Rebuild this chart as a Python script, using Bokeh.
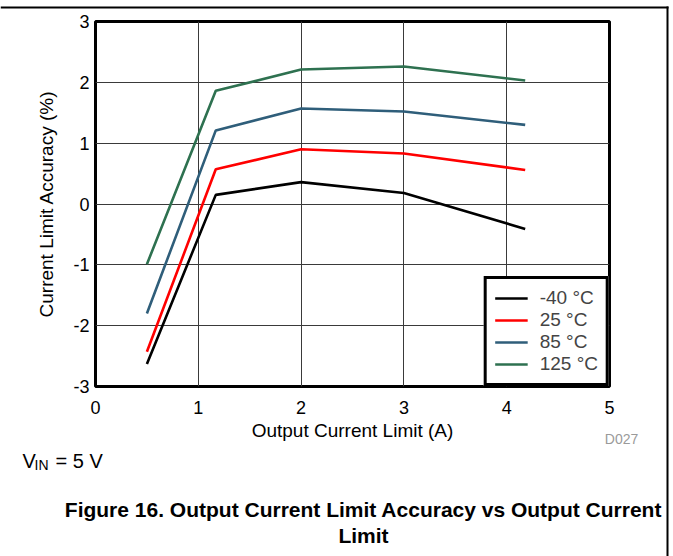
from bokeh.plotting import figure
from bokeh.layouts import column
from bokeh.models import (Range1d, Label, Legend, LegendItem, BoxAnnotation, FixedTicker,
                          PrintfTickFormatter)
from bokeh.embed import file_html
from bokeh.resources import INLINE

# ---- data ----
x_current = [0.5, 1.17, 2.0, 3.0, 4.18]
acc_m40 = [-2.63, 0.15, 0.36, 0.18, -0.41]
acc_25 = [-2.43, 0.57, 0.90, 0.83, 0.56]
acc_85 = [-1.80, 1.21, 1.57, 1.52, 1.30]
acc_125 = [-0.99, 1.86, 2.21, 2.26, 2.03]
series_labels = ["-40 °C", "25 °C", "85 °C", "125 °C"]
series_colors = ["#000000", "#FF0000", "#2F5E7A", "#2E7150"]
x_ticks = [0, 1, 2, 3, 4, 5]
y_ticks = [-3, -2, -1, 0, 1, 2, 3]

FONT = "Liberation Sans"
W, H = 673, 556

p = figure(width=W, height=H, output_backend="svg", toolbar_location=None,
           x_range=Range1d(0, 5), y_range=Range1d(-3, 3),
           min_border_left=95, min_border_right=64, min_border_top=21, min_border_bottom=170)
p.frame_align = False
p.background_fill_color = "white"
p.border_fill_color = "white"
p.outline_line_color = "black"
p.outline_line_width = 3

for ax in (p.xaxis[0], p.yaxis[0]):
    ax.axis_line_color = None
    ax.major_tick_line_color = None
    ax.minor_tick_line_color = None
    ax.major_tick_in = 0
    ax.major_tick_out = 0
    ax.minor_tick_in = 0
    ax.minor_tick_out = 0
    ax.major_label_text_font = FONT
    ax.major_label_text_font_size = "18px"
    ax.major_label_text_color = "black"
    ax.axis_label_text_font = FONT
    ax.axis_label_text_font_size = "19px"
    ax.axis_label_text_font_style = "normal"
    ax.axis_label_text_color = "black"
    ax.formatter = PrintfTickFormatter(format="%d")

p.xaxis.ticker = FixedTicker(ticks=x_ticks)
p.yaxis.ticker = FixedTicker(ticks=y_ticks)
p.xaxis.axis_label = "Output Current Limit (A)"
p.yaxis.axis_label = "Current Limit Accuracy (%)"
p.xaxis.major_label_standoff = 14
p.xaxis.axis_label_standoff = 3
p.yaxis.major_label_standoff = 6
p.yaxis.axis_label_standoff = 13

p.xgrid.ticker = FixedTicker(ticks=x_ticks)
p.ygrid.ticker = FixedTicker(ticks=y_ticks)
for g in (p.xgrid[0], p.ygrid[0]):
    g.grid_line_color = "#3a3a3a"
    g.grid_line_width = 1
    g.grid_line_alpha = 1

items = []
for ys, col, lab in zip([acc_m40, acc_25, acc_85, acc_125], series_colors, series_labels):
    r = p.line(x_current, ys, line_color=col, line_width=2.6)
    items.append(LegendItem(label=lab, renderers=[r]))

legend = Legend(items=items, location="bottom_right")
legend.margin = 0
legend.padding = 8
legend.spacing = 0
legend.label_height = 22
legend.glyph_height = 22
legend.glyph_width = 33
legend.label_standoff = 12
legend.label_text_font = FONT
legend.label_text_font_size = "19px"
legend.border_line_color = "black"
legend.border_line_alpha = 1
legend.border_line_width = 3
legend.background_fill_color = "white"
legend.background_fill_alpha = 1
p.add_layout(legend)

# ---- transparent overlay (page-pixel coordinates) for notes, caption and page frame ----
ov = figure(width=W, height=H, output_backend="svg", toolbar_location=None,
            x_range=Range1d(0, W), y_range=Range1d(H, 0),
            x_axis_type=None, y_axis_type=None,
            min_border=0, min_border_left=0, min_border_right=0,
            min_border_top=0, min_border_bottom=0)
ov.frame_align = False
ov.outline_line_color = None
ov.background_fill_alpha = 0
ov.border_fill_alpha = 0
ov.margin = (-H, 0, 0, 0)

ov.add_layout(Label(x=621, y=438, text="D027", text_font=FONT, text_font_size="14px",
                    text_color="#9a9a9a", text_align="center", text_baseline="alphabetic"))
ov.add_layout(Label(x=22, y=460, text="V", text_font=FONT, text_font_size="20px",
                    text_color="black", text_align="left", text_baseline="alphabetic"))
ov.add_layout(Label(x=34, y=464, text="IN", text_font=FONT, text_font_size="14px",
                    text_color="black", text_align="left", text_baseline="alphabetic"))
ov.add_layout(Label(x=55, y=460, text="= 5 V", text_font=FONT, text_font_size="20px",
                    text_color="black", text_align="left", text_baseline="alphabetic"))
ov.add_layout(Label(x=363, y=509, text="Figure 16. Output Current Limit Accuracy vs Output Current",
                    text_font=FONT, text_font_size="21px", text_font_style="bold",
                    text_color="black", text_align="center", text_baseline="alphabetic"))
ov.add_layout(Label(x=363, y=535, text="Limit",
                    text_font=FONT, text_font_size="21px", text_font_style="bold",
                    text_color="black", text_align="center", text_baseline="alphabetic"))

ov.add_layout(BoxAnnotation(left=0, right=668, top=6, bottom=8,
                            fill_color="black", fill_alpha=1, line_color=None))
ov.add_layout(BoxAnnotation(left=666, right=668, top=6, bottom=H,
                            fill_color="black", fill_alpha=1, line_color=None))

layout = column(p, ov, spacing=0)
open("out.html", "w").write(file_html(layout, INLINE))
